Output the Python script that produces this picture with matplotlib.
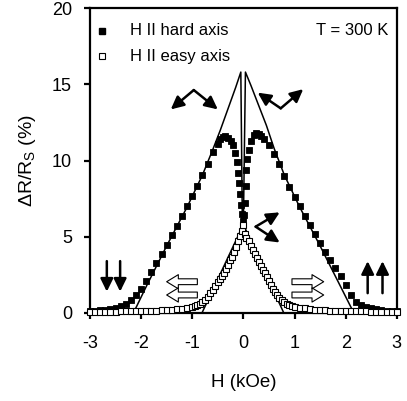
import matplotlib
matplotlib.use("Agg")
import matplotlib.pyplot as plt

plt.rcParams['font.family'] = ['Liberation Sans', 'DejaVu Sans']
plt.rcParams['mathtext.fontset'] = 'custom'
plt.rcParams['mathtext.rm'] = 'Liberation Sans'
plt.rcParams['mathtext.it'] = 'Liberation Sans:italic'

# ---- data ----
hard_x = [-3.0, -2.9, -2.8, -2.7, -2.6, -2.5, -2.4, -2.3, -2.2, -2.1, -2.0, -1.9, -1.8, -1.7,
          -1.6, -1.5, -1.4, -1.3, -1.2, -1.1, -1.0, -0.9, -0.8, -0.7, -0.6, -0.5, -0.45, -0.4,
          -0.35, -0.3, -0.25, -0.2, -0.16, -0.13, -0.1, -0.08, -0.06, -0.04, -0.02, 0.0,
          0.02, 0.04, 0.05, 0.06, 0.07, 0.1, 0.15, 0.2, 0.25, 0.3, 0.35, 0.4, 0.5, 0.6, 0.7,
          0.8, 0.9, 1.0, 1.1, 1.2, 1.3, 1.4, 1.5, 1.6, 1.7, 1.8, 1.9, 2.0, 2.1, 2.2, 2.3, 2.4,
          2.5, 2.6, 2.7, 2.8, 2.9, 3.0]
hard_y = [0.12, 0.15, 0.18, 0.22, 0.28, 0.35, 0.45, 0.6, 0.85, 1.2, 1.6, 2.1, 2.7, 3.3,
          3.85, 4.45, 5.1, 5.7, 6.35, 7.0, 7.65, 8.35, 9.05, 9.8, 10.55, 11.1, 11.4, 11.55,
          11.6, 11.5, 11.3, 11.0, 10.5, 9.9, 9.2, 8.5, 7.8, 7.1, 6.5, 6.0,
          6.4, 7.2, 8.3, 9.4, 10.1, 10.7, 11.3, 11.7, 11.8, 11.75, 11.6, 11.4, 11.0, 10.4, 9.8,
          9.0, 8.25, 7.6, 7.0, 6.35, 5.75, 5.15, 4.6, 4.0, 3.45, 2.95, 2.4, 1.85, 1.15, 0.7, 0.5, 0.38,
          0.3, 0.24, 0.2, 0.16, 0.13, 0.12]

easy_x = [-3.0, -2.9, -2.8, -2.7, -2.6, -2.5, -2.4, -2.3, -2.2, -2.1, -2.0, -1.9, -1.8, -1.7,
          -1.6, -1.5, -1.4, -1.3, -1.2, -1.1, -1.0, -0.95, -0.9, -0.85, -0.8, -0.75, -0.7, -0.65,
          -0.6, -0.55, -0.5, -0.45, -0.42, -0.38, -0.34, -0.3, -0.26, -0.22, -0.18, -0.14, -0.1,
          -0.06, -0.03, 0.0,
          0.03, 0.06, 0.1, 0.14, 0.18, 0.22, 0.26, 0.3, 0.34, 0.38, 0.42, 0.46, 0.5, 0.54, 0.58,
          0.62, 0.66, 0.7, 0.75, 0.8, 0.85, 0.9, 0.95, 1.0, 1.1, 1.2, 1.3, 1.4, 1.5, 1.6, 1.7,
          1.8, 1.9, 2.0, 2.1, 2.2, 2.3, 2.4, 2.5, 2.6, 2.7, 2.8, 2.9, 3.0]
easy_y = [0.08, 0.08, 0.08, 0.09, 0.09, 0.09, 0.1, 0.1, 0.1, 0.11, 0.11, 0.12, 0.13, 0.15,
          0.17, 0.19, 0.22, 0.25, 0.28, 0.33, 0.4, 0.45, 0.5, 0.6, 0.72, 0.88, 1.07, 1.3,
          1.5, 1.75, 2.0, 2.25, 2.4, 2.65, 2.9, 3.15, 3.45, 3.7, 4.0, 4.35, 4.7,
          5.05, 5.35, 5.8,
          5.2, 4.95, 4.7, 4.4, 4.1, 3.85, 3.6, 3.35, 3.1, 2.85, 2.6, 2.38, 2.1, 1.85, 1.6,
          1.35, 1.15, 1.0, 0.85, 0.72, 0.6, 0.52, 0.46, 0.42, 0.35, 0.3, 0.26, 0.22, 0.19, 0.17, 0.15,
          0.13, 0.12, 0.11, 0.11, 0.1, 0.1, 0.1, 0.09, 0.09, 0.09, 0.08, 0.08, 0.08]

# theory curves
hard_line_left_x = [-2.15, -1.89, -1.5, -1.1, -0.8, -0.6, -0.45, -0.3, -0.15, -0.05, -0.02]
hard_line_left_y = [0.0, 1.8, 4.4, 6.95, 9.05, 10.7, 12.0, 13.4, 14.8, 15.8, 5.8]
hard_line_right_x = [0.0, 0.04, 0.15, 0.3, 0.45, 0.6, 0.8, 1.1, 1.5, 1.89, 2.16]
hard_line_right_y = [5.8, 15.8, 14.9, 13.6, 12.3, 10.8, 9.05, 6.95, 4.4, 1.8, 0.0]
easy_line_x = [-0.81, 0.0, 0.79]
easy_line_y = [0.0, 5.8, 0.0]

x_ticks = [-3, -2, -1, 0, 1, 2, 3]
y_ticks = [0, 5, 10, 15, 20]

fig = plt.figure(figsize=(4.07, 4.01), dpi=100)
ax = fig.add_axes([0.221, 0.2195, 0.754, 0.7605])

ax.plot(hard_line_left_x, hard_line_left_y, color='black', lw=1.1, zorder=2)
ax.plot(hard_line_right_x, hard_line_right_y, color='black', lw=1.1, zorder=2)
ax.plot(easy_line_x, easy_line_y, color='black', lw=1.1, zorder=2)

ax.plot(hard_x, hard_y, ls='none', marker='s', ms=4.0, mfc='black', mec='black',
        mew=0.6, zorder=3, clip_on=False)
ax.plot(easy_x, easy_y, ls='none', marker='s', ms=3.9, mfc='white', mec='black',
        mew=0.8, zorder=4, clip_on=False)

# legend-like labels
ax.plot([-2.77], [18.5], ls='none', marker='s', ms=4.2, mfc='black', mec='black', clip_on=False)
ax.plot([-2.77], [16.85], ls='none', marker='s', ms=3.8, mfc='white', mec='black', mew=0.8)
ax.text(-2.22, 18.5, 'H II hard axis', fontsize=12, va='center', ha='left')
ax.text(-2.22, 16.85, 'H II easy axis', fontsize=12, va='center', ha='left')
ax.text(2.83, 18.5, 'T = 300 K', fontsize=12, va='center', ha='right')

# filled arrows
def farrow(x0, y0, x1, y1):
    ax.annotate('', xy=(x1, y1), xytext=(x0, y0),
                arrowprops=dict(arrowstyle='-|>,head_length=0.55,head_width=0.27',
                                color='black', lw=1.8, mutation_scale=14,
                                shrinkA=0, shrinkB=0))

farrow(-2.67, 3.4, -2.67, 1.4)
farrow(-2.41, 3.4, -2.41, 1.4)
farrow(2.43, 1.3, 2.43, 3.4)
farrow(2.72, 1.3, 2.72, 3.4)

# bent arrows (apex -> ends)
farrow(-0.97, 14.62, -1.42, 13.35)
farrow(-0.97, 14.62, -0.5, 13.35)
farrow(0.73, 13.42, 0.28, 14.45)
farrow(0.73, 13.42, 1.17, 14.68)
farrow(0.24, 5.66, 0.71, 6.6)
farrow(0.24, 5.66, 0.71, 4.62)

# hollow arrows
def harrow(x0, x1, y):
    ax.annotate('', xy=(x1, y), xytext=(x0, y),
                arrowprops=dict(arrowstyle='simple,head_length=0.7,head_width=0.85,tail_width=0.35',
                                fc='white', ec='black', lw=0.8, mutation_scale=12,
                                shrinkA=0, shrinkB=0))

harrow(-0.9, -1.5, 2.05)
harrow(-0.9, -1.5, 1.18)
harrow(0.95, 1.57, 2.05)
harrow(0.95, 1.57, 1.18)

ax.set_xlim(-3, 3)
ax.set_ylim(0, 20)
ax.set_xticks(x_ticks)
ax.set_xticklabels([str(t) for t in x_ticks])
ax.set_yticks(y_ticks)
for s in ax.spines.values():
    s.set_linewidth(1.6)
ax.tick_params(axis='both', direction='out', length=4, width=1.6, labelsize=13)
ax.tick_params(axis='x', pad=12)
ax.tick_params(axis='y', pad=9)
ax.set_xlabel('H (kOe)', fontsize=13.5, labelpad=16)
ax.set_ylabel(r'ΔR/R$_\mathrm{S}$ (%)', fontsize=14, labelpad=10)

fig.savefig('out.png', dpi=100)
